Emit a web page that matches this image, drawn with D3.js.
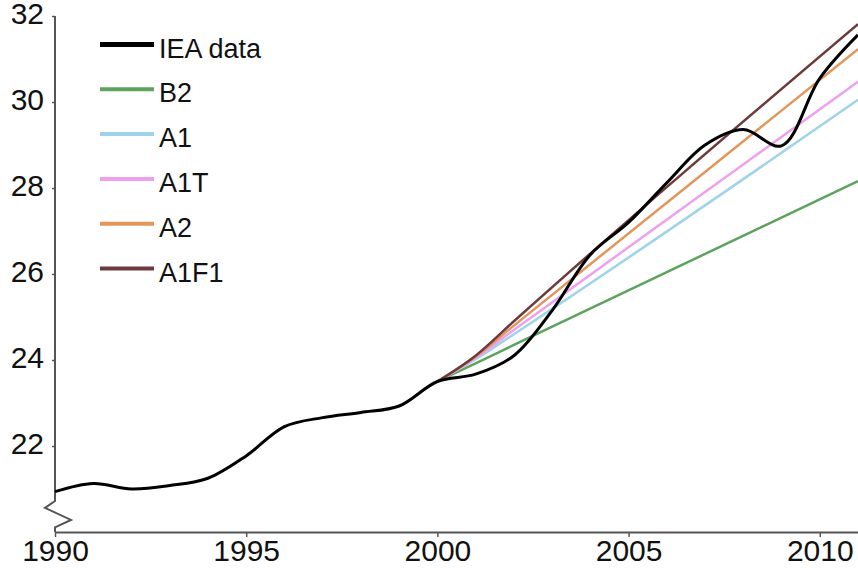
<!DOCTYPE html>
<html>
<head>
<meta charset="utf-8">
<script src="https://cdn.jsdelivr.net/npm/d3@7"></script>
<style>
  html, body { margin: 0; padding: 0; background: #fff; }
  svg { display: block; font-family: "Liberation Sans", Arial, sans-serif; }
</style>
</head>
<body>
<svg id="chart" width="858" height="568"></svg>
<script>
// ---- Data ----
const ieaYears = [1990,1991,1992,1993,1994,1995,1996,1997,1998,1999,2000,2001,2002,2003,2004,2005,2006,2007,2008,2009,2010,2011];
const ieaValues = [20.94,21.13,21.0,21.08,21.25,21.77,22.45,22.66,22.78,22.93,23.5,23.67,24.1,25.15,26.45,27.2,28.12,29.0,29.36,28.98,30.55,31.56];

const scenarioYears = [2000, 2001, 2002, 2011];
const b2Values   = [23.5, 23.92, 24.35, 28.16];
const a1Values   = [23.5, 24.02, 24.6, 30.05];
const a1tValues  = [23.5, 24.05, 24.7, 30.47];
const a2Values   = [23.5, 24.08, 24.8, 31.23];
const a1f1Values = [23.5, 24.1, 24.9, 31.81];

const seriesNames  = ["IEA data", "B2", "A1", "A1T", "A2", "A1F1"];
const seriesColors = ["#000000", "#5da35d", "#9fd3ea", "#eea0ee", "#e2965a", "#6e3a3c"];

const xTicks = [1990, 1995, 2000, 2005, 2010];
const yTicks = [22, 24, 26, 28, 30, 32];
const xDomain = [1990, 2011];
const yDomain = [20, 32];

// ---- Layout ----
const svg = d3.select("#chart");
const axisX = 55, plotRight = 858, plotTop = 16, plotBottom = 532;

const x = d3.scaleLinear().domain(xDomain).range([axisX, plotRight]);
const y = d3.scaleLinear().domain(yDomain).range([plotBottom, plotTop]);

const axisColor = "#555";
const fontSize = 30;

// X axis
const gx = svg.append("g").attr("transform", `translate(0,${plotBottom})`)
  .call(d3.axisBottom(x).tickValues(xTicks).tickFormat(d3.format("d")).tickSize(5).tickPadding(3).tickSizeOuter(0));
gx.select(".domain").attr("stroke", axisColor).attr("stroke-width", 2);
gx.selectAll(".tick line").attr("stroke", axisColor).attr("stroke-width", 1.5);
gx.selectAll(".tick text").attr("font-size", fontSize).attr("font-family", "Liberation Sans, Arial, sans-serif").attr("fill", "#111");

// Y axis (ticks & labels only; domain line drawn with break)
const gy = svg.append("g").attr("transform", `translate(${axisX},0)`)
  .call(d3.axisLeft(y).tickValues(yTicks).tickFormat(d3.format("d")).tickSize(3).tickPadding(8).tickSizeOuter(0));
gy.select(".domain").remove();
gy.selectAll(".tick line").attr("stroke", axisColor).attr("stroke-width", 1.5);
gy.selectAll(".tick text").attr("font-size", fontSize).attr("font-family", "Liberation Sans, Arial, sans-serif").attr("fill", "#111").attr("dy", "0.26em");

// Y axis line with zigzag break near the bottom
const breakVals = [32, 20.72, 20.56, 20.28, 20.11, 20];
const breakOffsets = [0, 0, -10, 16, 0, 0];
const breakLine = d3.line().x((d, i) => axisX + breakOffsets[i]).y(d => y(d));
svg.append("path").attr("d", breakLine(breakVals))
  .attr("fill", "none").attr("stroke", axisColor).attr("stroke-width", 2).attr("stroke-linejoin", "miter");

// ---- Lines ----
const scenarios = [
  { name: "B2", values: b2Values, color: seriesColors[1] },
  { name: "A1", values: a1Values, color: seriesColors[2] },
  { name: "A1T", values: a1tValues, color: seriesColors[3] },
  { name: "A2", values: a2Values, color: seriesColors[4] },
  { name: "A1F1", values: a1f1Values, color: seriesColors[5] }
];

const scenLine = d3.line().x(d => x(d[0])).y(d => y(d[1])).curve(d3.curveMonotoneX);
scenarios.forEach(s => {
  svg.append("path")
    .attr("d", scenLine(scenarioYears.map((yr, i) => [yr, s.values[i]])))
    .attr("fill", "none").attr("stroke", s.color).attr("stroke-width", 2.5);
});

const ieaLine = d3.line().x(d => x(d[0])).y(d => y(d[1])).curve(d3.curveCatmullRom.alpha(0.5));
svg.append("path")
  .attr("d", ieaLine(ieaYears.map((yr, i) => [yr, ieaValues[i]])))
  .attr("fill", "none").attr("stroke", "#000").attr("stroke-width", 3).attr("stroke-linejoin", "round");

// ---- Legend ----
const legendY0 = 44.5, legendStep = 44.8;
const legend = svg.append("g");
seriesNames.forEach((name, i) => {
  const ly = legendY0 + i * legendStep;
  legend.append("line").attr("x1", 100).attr("x2", 154).attr("y1", ly).attr("y2", ly)
    .attr("stroke", seriesColors[i]).attr("stroke-width", i === 0 ? 5 : 4);
  legend.append("text").attr("x", 159).attr("y", ly + 13)
    .attr("font-size", 27).attr("fill", "#111").text(name);
});
</script>
</body>
</html>
